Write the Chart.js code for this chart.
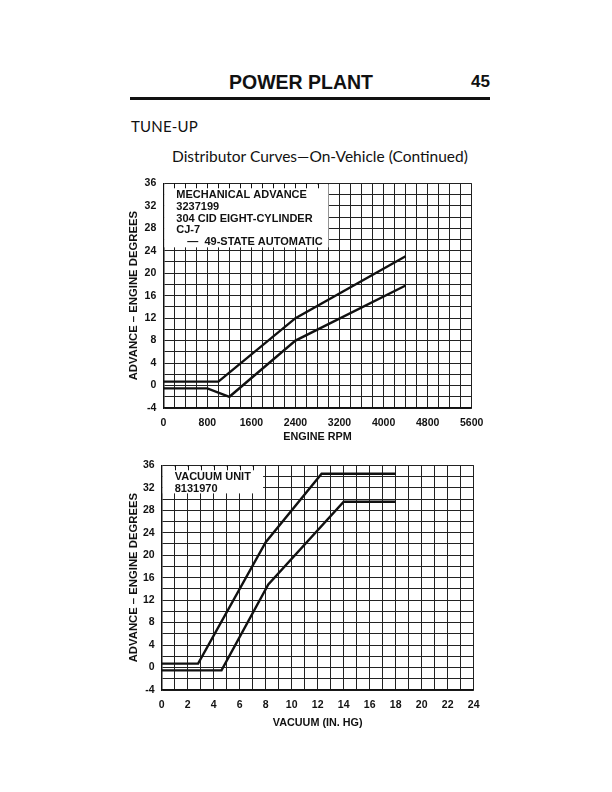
<!DOCTYPE html>
<html>
<head>
<meta charset="utf-8">
<script src="https://cdn.jsdelivr.net/npm/chart.js@4.4.1/dist/chart.umd.min.js"></script>
<style>
  body { margin: 0; width: 612px; height: 792px; background: #fff; position: relative; overflow: hidden; }
  .abs { position: absolute; color: #111; white-space: nowrap; }
  #hdr { left: 0; width: 602px; top: 71px; text-align: center; font: bold 19.5px 'Liberation Sans', Arial, sans-serif; }
  #pg { left: 471px; top: 72px; font: bold 17px 'Liberation Sans', Arial, sans-serif; }
  #rule { position: absolute; left: 130px; top: 97px; width: 360px; height: 3px; background: #111; }
  #sect { left: 131px; top: 117px; font: 15px 'Lato', 'Open Sans', sans-serif; letter-spacing: 0.2px; }
  #sub { left: 172px; top: 147px; font: 15.5px 'Lato', 'Open Sans', sans-serif; }
  canvas { position: absolute; left: 0; }
</style>
</head>
<body>
<div class="abs" id="hdr">POWER PLANT</div>
<div class="abs" id="pg">45</div>
<div id="rule"></div>
<div class="abs" id="sect">TUNE-UP</div>
<div class="abs" id="sub">Distributor Curves—On-Vehicle (Continued)</div>
<canvas id="mechChart" width="612" height="280" style="top:170px;width:612px;height:280px"></canvas>
<canvas id="vacChart" width="612" height="290" style="top:452px;width:612px;height:290px"></canvas>
<script>
// mechanical advance, upper and lower limit curves
const rpmUpper = [0, 1000, 2400, 4400];
const advUpper = [0.7, 0.7, 12, 23];
const rpmLower = [0, 800, 1200, 2400, 4400];
const advLower = [-0.5, -0.5, -2, 8, 17.8];

// vacuum unit, upper and lower limit curves
const vacUpper = [0, 2.8, 8, 12.3, 18];
const vacAdvUpper = [0.7, 0.7, 22.3, 34.5, 34.5];
const vacLower = [0, 4.6, 8.2, 14, 18];
const vacAdvLower = [-0.5, -0.5, 14.8, 29.5, 29.5];

const mechLabel = ['MECHANICAL ADVANCE', '3237199', '304 CID EIGHT-CYLINDER', 'CJ-7', '—  49-STATE AUTOMATIC'];
const vacLabel = ['VACUUM UNIT', '8131970'];

const FONT = "'Liberation Sans', Arial, sans-serif";
const INK = '#111';

function toPoints(xs, ys) {
  return xs.map((x, i) => ({ x: x, y: ys[i] }));
}

// white label box laid over the grid, top-left of the plot
const labelBox = {
  id: 'labelBox',
  beforeDatasetsDraw(chart, args, opts) {
    const { ctx, chartArea, scales } = chart;
    const right = scales.x.getPixelForValue(opts.xEnd);
    const bottom = scales.y.getPixelForValue(opts.yEnd);
    ctx.save();
    ctx.fillStyle = '#fff';
    ctx.fillRect(chartArea.left + 1, chartArea.top + 1, right - chartArea.left - 1, bottom - chartArea.top - 1);
    // short tick marks left along the top edge
    ctx.strokeStyle = INK;
    ctx.lineWidth = 1;
    for (let v = opts.xStep; v < opts.xEnd; v += opts.xStep) {
      const px = Math.round(scales.x.getPixelForValue(v)) + 0.5;
      ctx.beginPath();
      ctx.moveTo(px, chartArea.top);
      ctx.lineTo(px, chartArea.top + 5);
      ctx.stroke();
    }
    ctx.fillStyle = INK;
    ctx.font = 'bold 11px ' + FONT;
    ctx.textBaseline = 'middle';
    opts.lines.forEach((t, i) => {
      const indent = t.startsWith('—') ? 11 : 0;
      ctx.fillText(t, chartArea.left + 13 + indent, chartArea.top + 12 + i * 11.6);
    });
    ctx.restore();
  }
};

function tickFont(size) {
  return { family: FONT, size: size, weight: 'bold' };
}

function makeChart(id, xMax, xStep, xLabelEvery, xTitle, series, box, pad, xHeight, yWidth, titlePad) {
  return new Chart(document.getElementById(id).getContext('2d'), {
    type: 'line',
    data: {
      datasets: series.map(s => ({
        data: s,
        borderColor: INK,
        borderWidth: 2.4,
        pointRadius: 0,
        fill: false,
        tension: 0
      }))
    },
    options: {
      responsive: false,
      animation: false,
      layout: { padding: pad },
      plugins: { legend: { display: false }, tooltip: { enabled: false }, labelBox: box },
      scales: {
        x: {
          type: 'linear',
          min: 0,
          max: xMax,
          afterFit: s => { s.height = xHeight; },
          grid: { color: '#222', lineWidth: 1, drawTicks: false },
          border: { color: INK, width: 1.5 },
          ticks: {
            stepSize: xStep,
            autoSkip: false,
            maxRotation: 0,
            maxTicksLimit: 100,
            padding: 9,
            color: INK,
            font: tickFont(10.5),
            callback: v => (v % xLabelEvery === 0 ? v : '')
          },
          title: { display: true, text: xTitle, color: INK, font: tickFont(10.8), padding: { top: 0, bottom: titlePad } }
        },
        y: {
          type: 'linear',
          min: -4,
          max: 36,
          afterFit: s => { s.width = yWidth; },
          grid: { color: '#222', lineWidth: 1, drawTicks: false },
          border: { color: INK, width: 1.5 },
          ticks: {
            stepSize: 2,
            autoSkip: false,
            maxTicksLimit: 100,
            padding: 7,
            color: INK,
            font: tickFont(10.5),
            callback: v => (v % 4 === 0 ? v : '')
          },
          title: { display: true, text: 'ADVANCE – ENGINE DEGREES', color: INK, font: tickFont(11.3), padding: { top: 2, bottom: 0 } }
        }
      }
    },
    plugins: [labelBox]
  });
}

makeChart('mechChart', 5600, 200, 800, 'ENGINE RPM',
  [toPoints(rpmUpper, advUpper), toPoints(rpmLower, advLower)],
  { xEnd: 3000, yEnd: 24.6, xStep: 200, lines: mechLabel },
  { left: 125, right: 140.3, top: 10, bottom: 0 }, 42, 38.3, 6);

makeChart('vacChart', 24, 1, 2, 'VACUUM (IN. HG)',
  [toPoints(vacUpper, vacAdvUpper), toPoints(vacLower, vacAdvLower)],
  { xEnd: 7.8, yEnd: 31, xStep: 1, lines: vacLabel },
  { left: 125, right: 138.3, top: 10.3, bottom: 0 }, 52, 36.7, 12);
</script>
</body>
</html>
